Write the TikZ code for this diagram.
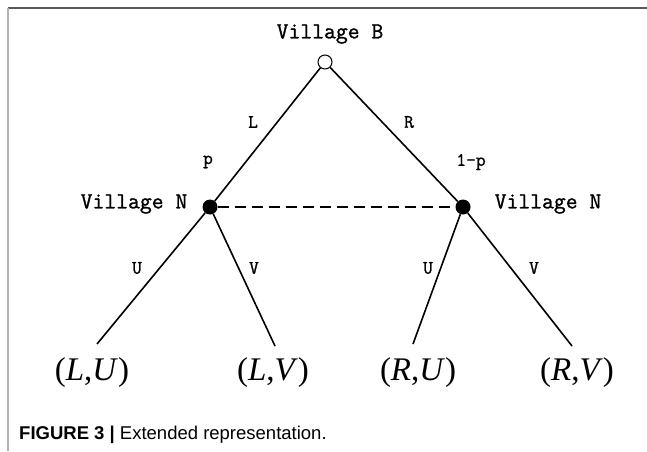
\documentclass[tikz,border=0pt]{standalone}
\usepackage{fontspec}
\newfontfamily\capfont{Liberation Sans}
\newfontfamily\outfont{Liberation Serif}
\newfontfamily\labfont[FakeBold=1.2]{Latin Modern Mono}
\begin{document}
\begin{tikzpicture}[x=1pt,y=-1pt,
  edge/.style={line width=1.6pt},
  chance/.style={circle,draw,line width=1pt,inner sep=0pt,minimum size=14pt},
  decision/.style={circle,fill,inner sep=0pt,minimum size=15pt},
  player/.style={font=\fontsize{23}{25}\selectfont\labfont},
  lbl/.style={font=\fontsize{19}{21}\selectfont\labfont},
  outcome/.style={font=\fontsize{33}{35}\selectfont\outfont}]
\useasboundingbox (0,0) rectangle (647,451);
% frame lines
\draw[black!65,line width=1.5pt] (8,8) -- (647,8);
\draw[black!30,line width=1.5pt] (8,8) -- (8,451);

% nodes of the tree
\node[chance] (root) at (325,62) {};
\node[decision] (nl) at (210,207) {};
\node[decision] (nr) at (463,207) {};
\coordinate (lu) at (97,344);
\coordinate (lv) at (275,346);
\coordinate (ru) at (413,344);
\coordinate (rv) at (572,346);

% player names
\node[player] (pb) at (330,34) {Village B};
\node[player] (pnl) at (134,204) {Village N};
\node[player] (pnr) at (548,204) {Village N};

% branches
\draw[edge] (root) -- (nl);
\draw[edge] (root) -- (nr);
\draw[edge] (nl) -- (lu);
\draw[edge] (nl) -- (lv);
\draw[edge] (nr) -- (ru);
\draw[edge] (nr) -- (rv);
\draw[edge,dash pattern=on 11pt off 6pt] (nl) -- (nr);

% branch labels
\node[lbl] (tl) at (253,122) {L};
\node[lbl] (tr) at (409,122) {R};
\node[lbl] (tp) at (208,162) {p};
\node[lbl] (tq) at (471,162) {1-p};
\node[lbl] (tu1) at (137,268) {U};
\node[lbl] (tv1) at (254,268) {V};
\node[lbl] (tu2) at (428,268) {U};
\node[lbl] (tv2) at (534,268) {V};

% outcomes
\node[outcome] (olu) at (92,373) {(\textit{L},\textit{U})};
\node[outcome] (olv) at (273,373) {(\textit{L},\textit{V})};
\node[outcome] (oru) at (418,373) {(\textit{R},\textit{U})};
\node[outcome] (orv) at (577,373) {(\textit{R},\textit{V})};

% caption
\node[anchor=west,inner sep=0pt,font=\capfont\fontsize{18.5}{20}\selectfont] (cap) at (19,435)
  {\textbf{FIGURE 3 |} Extended representation.};
\end{tikzpicture}
\end{document}
